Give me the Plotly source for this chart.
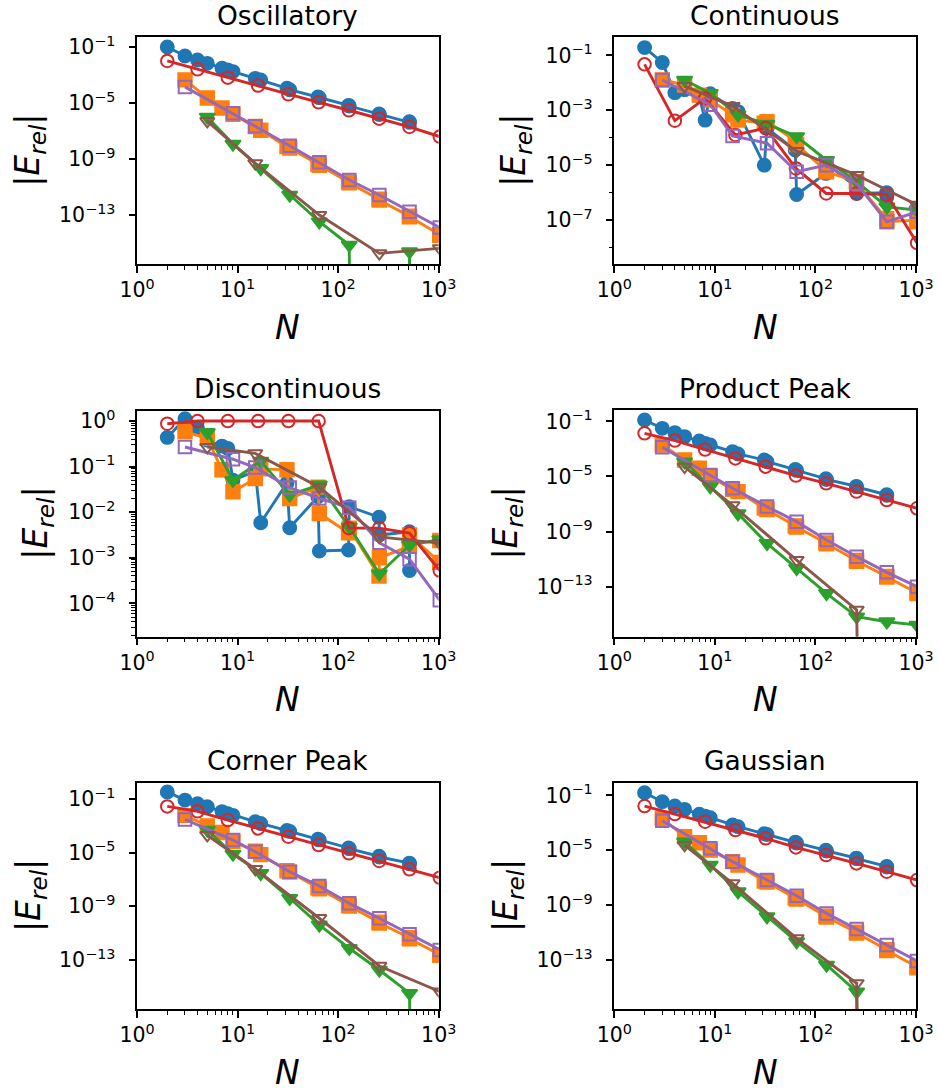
import plotly.graph_objects as go

W, H = 939, 1092

# ---------------- data ----------------
x_blue = [2, 3, 4, 5, 7, 8, 9, 15, 17, 31, 33, 63, 65, 127, 129, 255, 257, 511, 513]
x_red = [2, 4, 8, 16, 32, 64, 128, 256, 512, 1024]
x_orange = [3, 5, 7, 9, 15, 17, 31, 33, 63, 65, 127, 129, 255, 257, 511, 513, 1023, 1025]
x_purple = [3, 9, 15, 33, 65, 129, 257, 513, 1025]
x_green = [5, 9, 17, 33, 65, 129, 257, 513, 1025]
x_brown = [5, 15, 65, 257, 1025]

ZERO = 1e-300  # exact-zero error (clipped below the log axis, as in the original)

titles = ["Oscillatory", "Continuous", "Discontinuous", "Product Peak", "Corner Peak", "Gaussian"]

# Oscillatory
osc_blue = [1.0e-1, 2.29e-2, 1.17e-2, 6.76e-3, 3.02e-3, 2.29e-3, 1.74e-3, 5.75e-4, 4.37e-4, 1.12e-4,
            8.9e-5, 2.69e-5, 2.4e-5, 6.76e-6, 6.03e-6, 1.66e-6, 1.51e-6, 4.57e-7, 4.17e-7]
osc_red = [1.0e-2, 2.51e-3, 6.46e-4, 1.74e-4, 4.17e-5, 1.12e-5, 3.02e-6, 7.59e-7, 1.95e-7, 3.98e-8]
osc_orange = [4.47e-4, 2.29e-5, 4.37e-6, 1.58e-6, 2.09e-7, 1.12e-7, 7.59e-9, 6.03e-9, 4.17e-10, 3.55e-10,
              2.29e-11, 2.0e-11, 1.32e-12, 1.15e-12, 8.32e-14, 7.41e-14, 3.98e-15, 3.55e-15]
osc_purple = [1.41e-4, 1.82e-6, 2.14e-7, 8.91e-9, 5.75e-10, 3.16e-11, 2.69e-12, 1.74e-13, 1.26e-14]
osc_green = [1.0e-6, 1.17e-8, 2.14e-10, 2.69e-12, 3.31e-14, 7.24e-16, ZERO, 2.4e-16, ZERO]
osc_brown = [5.01e-7, 4.9e-10, 1.0e-13, 1.82e-16, 4.17e-16]

# Continuous
con_blue = [1.91e-1, 5.5e-2, 4.37e-3, 5.62e-3, 3.16e-3, 4.37e-4, 3.98e-3, 1.17e-3, 8.91e-4, 1.0e-5,
            2.19e-4, 3.55e-5, 8.51e-7, 5.01e-6, 1.15e-5, 1.58e-6, 9.33e-7, 1.0e-6, 7.08e-7]
con_red = [4.68e-2, 4.17e-4, 2.69e-3, 1.26e-4, 2.24e-4, 7.59e-6, 9.33e-7, 9.33e-7, 8.51e-7, 1.48e-8]
con_orange = [1.26e-2, 8.32e-3, 3.55e-3, 2.34e-3, 6.76e-4, 4.37e-4, 3.39e-4, 3.8e-4, 7.94e-5, 5.62e-5,
              6.31e-6, 5.75e-6, 2.51e-6, 2.14e-6, 1.12e-7, 8.71e-8, 1.0e-7, 8.71e-8]
con_purple = [1.26e-2, 1.58e-3, 1.15e-4, 6.31e-5, 5.75e-6, 1.0e-5, 2.14e-6, 8.71e-8, 2.0e-7]
con_green = [1.26e-2, 4.17e-3, 6.76e-4, 3.16e-4, 1.1e-4, 1.51e-5, 2.51e-6, 3.02e-7, 2.29e-7]
con_brown = [7.59e-3, 1.41e-3, 3.24e-5, 4.37e-6, 3.55e-7]

# Discontinuous
dis_blue = [0.437, 1.12, 0.692, 0.38, 0.282, 0.251, 0.0501, 0.0794, 5.89e-3, 0.0437,
            4.57e-3, 0.0219, 1.41e-3, 1.48e-3, 0.0132, 7.76e-3, 3.16e-3, 3.72e-3, 5.25e-4]
dis_red = [0.871, 1.0, 1.0, 1.0, 1.0, 1.0, 4.47e-3, 4.47e-3, 3.47e-3, 5.25e-4]
dis_orange = [0.589, 0.417, 0.0851, 0.0282, 0.055, 0.0891, 0.0851, 0.02, 0.0355, 9.33e-3,
              3.55e-3, 4.47e-3, 3.98e-4, 1.0e-3, 1.78e-3, 3.16e-3, 7.94e-4, 2.4e-3]
dis_purple = [0.269, 0.145, 0.0955, 0.0347, 0.02, 0.0126, 2.14e-3, 9.33e-4, 1.17e-4]
dis_green = [0.562, 0.0501, 0.132, 0.024, 0.0398, 4.79e-3, 4.47e-4, 1.91e-3, 2.51e-3]
dis_brown = [0.269, 0.195, 0.0355, 2.88e-3, 2.09e-3]

# Product Peak
pro_blue = [0.126, 3.09e-2, 1.51e-2, 7.76e-3, 3.72e-3, 2.51e-3, 1.91e-3, 6.31e-4, 4.27e-4, 1.58e-4,
            1.17e-4, 3.16e-5, 2.75e-5, 6.92e-6, 6.03e-6, 1.91e-6, 1.74e-6, 4.68e-7, 4.27e-7]
pro_red = [1.35e-2, 3.98e-3, 8.91e-4, 2.04e-4, 5.13e-5, 1.15e-5, 3.16e-6, 7.94e-7, 1.95e-7, 4.9e-8]
pro_orange = [1.91e-3, 1.55e-4, 3.89e-5, 9.55e-6, 1.15e-6, 7.94e-7, 5.01e-8, 3.98e-8, 2.51e-9, 2.09e-9,
              1.51e-10, 1.32e-10, 7.94e-12, 6.92e-12, 5.62e-13, 5.01e-13, 3.55e-14, 3.16e-14]
pro_purple = [1.29e-3, 1.26e-5, 1.38e-6, 6.46e-8, 5.25e-9, 2.45e-10, 1.51e-11, 1.1e-12, 1.0e-13]
pro_green = [1.17e-4, 1.82e-6, 2.0e-8, 1.38e-10, 2.14e-12, 3.24e-14, 6.61e-16, 2.88e-16, 1.66e-16]
pro_brown = [5.01e-5, 7.94e-8, 8.51e-12, 2.04e-15, ZERO]

# Corner Peak
cor_blue = [0.339, 8.32e-2, 4.47e-2, 2.63e-2, 1.15e-2, 7.94e-3, 6.03e-3, 2.0e-3, 1.51e-3, 4.47e-4,
            3.8e-4, 1.0e-4, 8.91e-5, 2.24e-5, 2.0e-5, 5.37e-6, 4.79e-6, 1.66e-6, 1.51e-6]
cor_red = [2.82e-2, 1.2e-2, 2.69e-3, 6.46e-4, 1.55e-4, 3.72e-5, 8.91e-6, 2.4e-6, 5.75e-7, 1.38e-7]
cor_orange = [6.03e-3, 1.0e-3, 3.16e-4, 7.08e-5, 1.26e-5, 7.08e-6, 4.47e-7, 3.55e-7, 2.4e-8, 2.0e-8,
              1.2e-9, 1.05e-9, 6.61e-11, 5.75e-11, 4.47e-12, 3.8e-12, 2.51e-13, 2.19e-13]
cor_purple = [3.02e-3, 8.71e-5, 1.17e-5, 3.8e-7, 3.31e-8, 1.66e-9, 1.29e-10, 8.13e-12, 5.62e-13]
cor_green = [4.9e-4, 7.94e-6, 2.88e-7, 3.98e-9, 4.07e-11, 7.41e-13, 1.78e-14, 3.31e-16, ZERO]
cor_brown = [2.0e-4, 6.03e-7, 1.29e-10, 3.55e-14, 4.37e-16]

# Gaussian
gau_blue = [0.155, 3.47e-2, 1.66e-2, 9.55e-3, 4.17e-3, 3.09e-3, 2.34e-3, 6.92e-4, 5.25e-4, 1.58e-4,
            1.41e-4, 3.8e-5, 3.39e-5, 1.0e-5, 8.91e-6, 2.69e-6, 2.45e-6, 6.61e-7, 6.03e-7]
gau_red = [1.66e-2, 4.37e-3, 1.2e-3, 2.95e-4, 7.41e-5, 1.62e-5, 4.47e-6, 1.1e-6, 2.75e-7, 6.76e-8]
gau_orange = [2.09e-3, 9.77e-5, 3.55e-5, 1.05e-5, 1.48e-6, 8.32e-7, 5.62e-8, 4.79e-8, 3.31e-9, 2.82e-9,
              1.58e-10, 1.35e-10, 1.07e-11, 9.33e-12, 5.75e-13, 5.01e-13, 3.16e-14, 2.75e-14]
gau_purple = [1.41e-3, 1.38e-5, 1.48e-6, 6.76e-8, 4.9e-9, 2.51e-10, 1.82e-11, 1.23e-12, 8.51e-14]
gau_green = [4.17e-5, 8.32e-7, 9.55e-9, 1.45e-10, 2.19e-12, 4.37e-14, 4.9e-16, ZERO, ZERO]
gau_brown = [2.4e-5, 3.89e-8, 3.8e-12, 2.0e-15, ZERO]

x_ticks = [1, 10, 100, 1000]
x_ticktext = ["10<sup>0</sup>", "10<sup>1</sup>", "10<sup>2</sup>", "10<sup>3</sup>"]

# ---------------- styling ----------------
FONT = "DejaVu Sans"
series_style = [
    (x_blue, "#1f77b4", "circle", 13, 1.9),
    (x_orange, "#ff7f0e", "square", 13.5, 1.9),
    (x_green, "#2ca02c", "triangle-down", 13.5, 1.9),
    (x_red, "#d62728", "circle-open", 12.5, 2.0),
    (x_purple, "#9467bd", "square-open", 12.5, 2.0),
    (x_brown, "#8c564b", "triangle-down-open", 12.5, 2.0),
]

def sup(e):
    return "10<sup>" + str(e).replace("-", "\u2212") + "</sup>"

panels = [
    dict(series=[osc_blue, osc_orange, osc_green, osc_red, osc_purple, osc_brown],
         box=(137, 438.7, 37.3, 264.3), yr=[-16.52, -0.31], ymaj=[-1, -5, -9, -13], ymin="none", ylx=30),
    dict(series=[con_blue, con_orange, con_green, con_red, con_purple, con_brown],
         box=(614.3, 916, 37.3, 264.3), yr=[-8.61, -0.344], ymaj=[-1, -3, -5, -7], ymin="dec", ylx=516),
    dict(series=[dis_blue, dis_orange, dis_green, dis_red, dis_purple, dis_brown],
         box=(137, 438.7, 410.7, 636.7), yr=[-4.73, 0.226], ymaj=[0, -1, -2, -3, -4], ymin="sub", ylx=38),
    dict(series=[pro_blue, pro_orange, pro_green, pro_red, pro_purple, pro_brown],
         box=(614.3, 916, 410.3, 636.7), yr=[-16.63, -0.20], ymaj=[-1, -5, -9, -13], ymin="none", ylx=507),
    dict(series=[cor_blue, cor_orange, cor_green, cor_red, cor_purple, cor_brown],
         box=(137, 438.7, 782.7, 1009.3), yr=[-16.68, 0.217], ymaj=[-1, -5, -9, -13], ymin="none", ylx=30),
    dict(series=[gau_blue, gau_orange, gau_green, gau_red, gau_purple, gau_brown],
         box=(614.3, 916, 782.7, 1009.3), yr=[-16.59, -0.077], ymaj=[-1, -5, -9, -13], ymin="none", ylx=507),
]

x_minor = [m * 10 ** d for d in range(0, 3) for m in range(2, 10)]

fig = go.Figure()
annotations = []
for i, p in enumerate(panels):
    k = "" if i == 0 else str(i + 1)
    l, r, t, b = p["box"]
    for (xs, color, sym, size, lw), ys in zip(series_style, p["series"]):
        fig.add_trace(go.Scatter(
            x=xs, y=ys, xaxis="x" + k, yaxis="y" + k, mode="lines+markers",
            line=dict(color=color, width=2.9),
            marker=dict(symbol=sym, size=size, color=color, line=dict(color=color, width=lw)),
            showlegend=False, cliponaxis=True, hoverinfo="skip"))

    if p["ymin"] == "sub":
        yminor = [m * 10.0 ** d for d in range(-5, 1) for m in range(2, 10)]
    elif p["ymin"] == "dec":
        yminor = [10.0 ** d for d in range(-9, 0)]
    else:
        yminor = []

    common = dict(type="log", ticks="outside", ticklen=6.7, tickwidth=1.5, tickcolor="black",
                  showline=True, linecolor="black", linewidth=1.5, mirror=True,
                  showgrid=False, zeroline=False,
                  tickfont=dict(family=FONT, size=20.5, color="black"))
    fig.update_layout(**{
        "xaxis" + k: dict(common, domain=[l / W, r / W], anchor="y" + k, range=[0, 3.0],
                          tickmode="array", tickvals=x_ticks, ticktext=x_ticktext,
                          minor=dict(ticks="outside", ticklen=3.8, tickwidth=1.2, tickcolor="black",
                                     tickmode="array", tickvals=x_minor, showgrid=False)),
        "yaxis" + k: dict(common, domain=[1 - b / H, 1 - t / H], anchor="x" + k, range=p["yr"],
                          tickmode="array", tickvals=[10.0 ** e for e in p["ymaj"]],
                          ticktext=[sup(e) for e in p["ymaj"]], ticklabelstandoff=9,
                          minor=dict(ticks="outside" if yminor else "", ticklen=3.8, tickwidth=1.2,
                                     tickcolor="black", tickmode="array", tickvals=yminor,
                                     showgrid=False)),
    })
    cx = (l + r) / 2 / W
    annotations.append(dict(text=titles[i], x=cx, y=1 - (t - 22) / H, xref="paper", yref="paper",
                            xanchor="center", yanchor="middle", showarrow=False,
                            font=dict(family=FONT, size=26.5, color="black")))
    annotations.append(dict(text="<i>N</i>", x=cx, y=1 - (b + 63) / H, xref="paper", yref="paper",
                            xanchor="center", yanchor="middle", showarrow=False,
                            font=dict(family=FONT, size=33, color="black")))
    annotations.append(dict(text="|<i>E</i><sub><i>rel</i></sub>|", x=p["ylx"] / W,
                            y=1 - (t + b) / 2 / H, xref="paper", yref="paper", textangle=-90,
                            xanchor="center", yanchor="middle", showarrow=False,
                            font=dict(family=FONT, size=33, color="black")))

fig.update_layout(width=W, height=H, margin=dict(l=0, r=0, t=0, b=0, pad=0, autoexpand=False),
                  paper_bgcolor="white", plot_bgcolor="white", annotations=annotations)

fig.write_html("out.html", config={"displayModeBar": False},
               post_script="document.body.style.margin='0px';")
